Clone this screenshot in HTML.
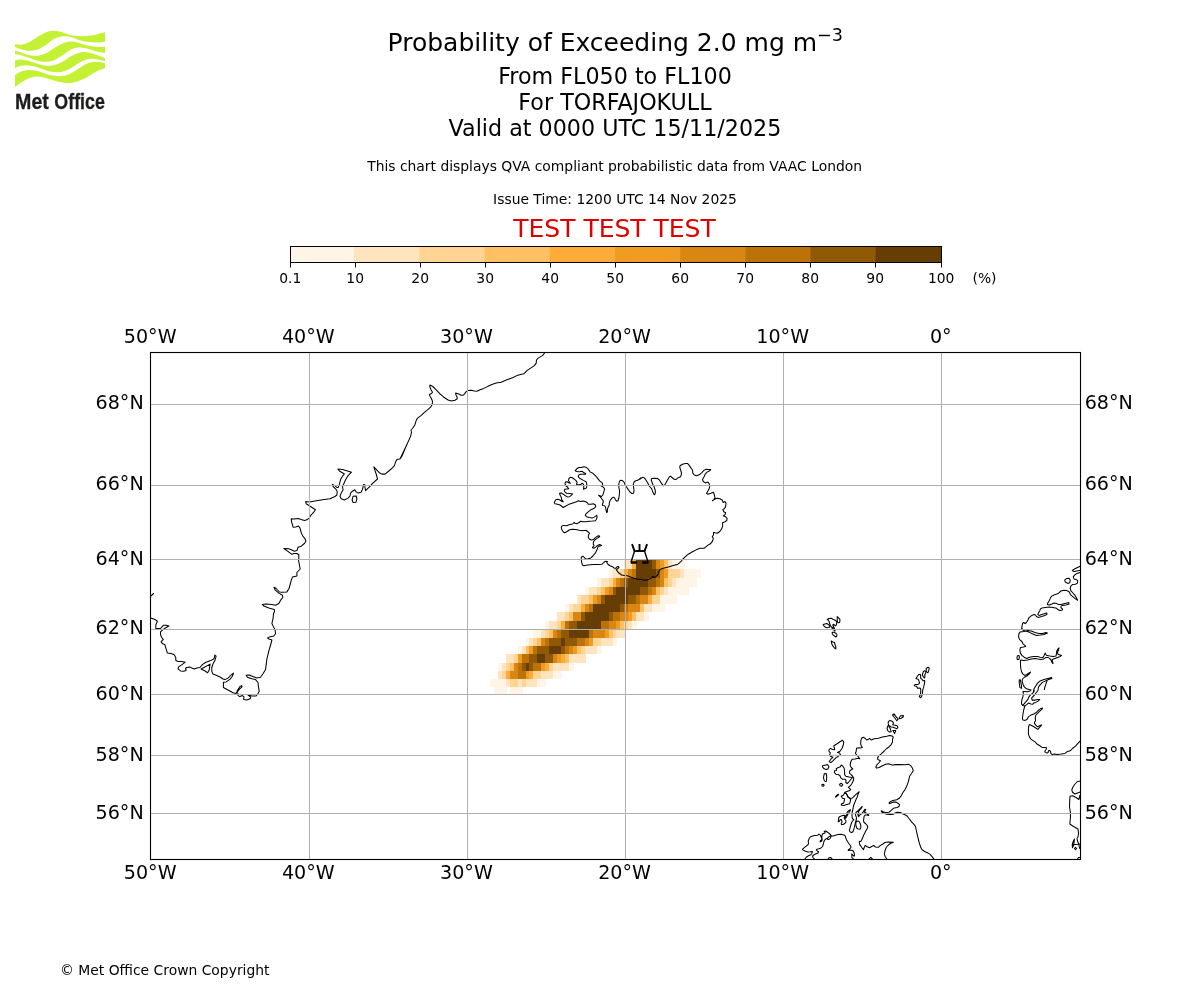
<!DOCTYPE html>
<html lang="en"><head><meta charset="utf-8"><title>Probability of Exceeding 2.0 mg m-3</title>
<style>
html,body{margin:0;padding:0;background:#fff;}
body{width:1200px;height:1000px;overflow:hidden;font-family:"DejaVu Sans","Liberation Sans",sans-serif;}
svg{display:block}
text{font-family:"DejaVu Sans","Liberation Sans",sans-serif;fill:#000}
.c{text-anchor:middle}
.r{text-anchor:end}
.t1{font-size:25px}
.t2{font-size:22.22px}
.s{font-size:13.89px}
.ax{font-size:19.1px}
.grid line{stroke:#b0b0b0;stroke-width:1}
.coast path{fill:none;stroke:#000;stroke-width:1.05;stroke-linejoin:round;stroke-linecap:round}
</style></head><body>
<svg width="1200" height="1000" viewBox="0 0 1200 1000">
<rect width="1200" height="1000" fill="#fff"/>

<g fill="#C4F134">
<path d="M15.00 44.33C16.25 44.37 19.86 45.10 22.50 44.58C25.14 44.07 28.06 42.71 30.83 41.25C33.61 39.79 36.39 37.43 39.17 35.83C41.94 34.24 45.00 32.50 47.50 31.67C50.00 30.83 51.81 30.76 54.17 30.83C56.53 30.90 59.03 31.39 61.67 32.08C64.31 32.78 66.81 34.31 70.00 35.00C73.19 35.69 77.64 36.11 80.83 36.25C84.03 36.39 86.39 36.18 89.17 35.83C91.94 35.49 94.86 34.75 97.50 34.17C100.14 33.58 103.75 32.64 105.00 32.33L105.00 41.67C103.75 41.81 100.14 42.43 97.50 42.50C94.86 42.57 91.94 42.43 89.17 42.08C86.39 41.74 83.61 41.18 80.83 40.42C78.06 39.65 74.86 38.19 72.50 37.50C70.14 36.81 68.75 36.39 66.67 36.25C64.58 36.11 62.22 36.18 60.00 36.67C57.78 37.15 55.69 37.78 53.33 39.17C50.97 40.56 48.47 43.26 45.83 45.00C43.19 46.74 40.28 48.61 37.50 49.58C34.72 50.56 31.94 50.90 29.17 50.83C26.39 50.76 23.19 49.79 20.83 49.17C18.47 48.54 15.97 47.43 15.00 47.08Z"/>
<path d="M15.00 50.42C16.25 50.83 19.86 52.08 22.50 52.92C25.14 53.75 28.06 55.00 30.83 55.42C33.61 55.83 36.39 55.90 39.17 55.42C41.94 54.93 44.72 53.89 47.50 52.50C50.28 51.11 53.06 48.68 55.83 47.08C58.61 45.49 61.53 43.85 64.17 42.92C66.81 41.99 69.17 41.50 71.67 41.50C74.17 41.50 76.25 42.19 79.17 42.92C82.08 43.64 86.11 45.14 89.17 45.83C92.22 46.53 94.86 46.92 97.50 47.08C100.14 47.25 103.75 46.87 105.00 46.83L105.00 52.92C103.75 52.71 100.14 52.29 97.50 51.67C94.86 51.04 91.67 49.83 89.17 49.17C86.67 48.50 84.58 47.92 82.50 47.67C80.42 47.42 78.75 47.28 76.67 47.67C74.58 48.06 72.50 48.64 70.00 50.00C67.50 51.36 64.44 54.10 61.67 55.83C58.89 57.57 56.11 59.44 53.33 60.42C50.56 61.39 47.78 61.67 45.00 61.67C42.22 61.67 39.72 61.18 36.67 60.42C33.61 59.65 29.72 58.06 26.67 57.08C23.61 56.11 20.28 55.07 18.33 54.58C16.39 54.10 15.56 54.24 15.00 54.17Z"/>
<path d="M15.00 60.42C15.97 60.28 18.61 59.51 20.83 59.58C23.06 59.65 25.56 60.14 28.33 60.83C31.11 61.53 34.58 62.92 37.50 63.75C40.42 64.58 43.06 65.63 45.83 65.83C48.61 66.04 51.39 65.69 54.17 65.00C56.94 64.31 59.72 63.12 62.50 61.67C65.28 60.21 68.19 57.71 70.83 56.25C73.47 54.79 75.97 53.61 78.33 52.92C80.69 52.22 82.50 51.94 85.00 52.08C87.50 52.22 90.83 53.06 93.33 53.75C95.83 54.44 98.06 55.49 100.00 56.25C101.94 57.01 104.17 57.99 105.00 58.33L105.00 61.25C103.89 60.97 100.56 60.00 98.33 59.58C96.11 59.17 93.89 58.68 91.67 58.75C89.44 58.82 87.22 59.24 85.00 60.00C82.78 60.76 80.69 61.94 78.33 63.33C75.97 64.72 73.47 66.94 70.83 68.33C68.19 69.72 65.42 71.04 62.50 71.67C59.58 72.29 56.25 72.36 53.33 72.08C50.42 71.81 47.78 70.83 45.00 70.00C42.22 69.17 39.44 67.85 36.67 67.08C33.89 66.32 30.97 65.62 28.33 65.42C25.69 65.21 23.06 65.35 20.83 65.83C18.61 66.32 15.97 67.92 15.00 68.33Z"/>
<path d="M15.00 75.00C15.97 74.44 18.61 72.50 20.83 71.67C23.06 70.83 25.69 70.14 28.33 70.00C30.97 69.86 33.75 70.21 36.67 70.83C39.58 71.46 42.92 72.92 45.83 73.75C48.75 74.58 51.25 75.49 54.17 75.83C57.08 76.18 60.42 76.32 63.33 75.83C66.25 75.35 69.03 74.17 71.67 72.92C74.31 71.67 76.67 69.86 79.17 68.33C81.67 66.81 84.31 64.79 86.67 63.75C89.03 62.71 91.11 62.36 93.33 62.08C95.56 61.81 98.06 61.88 100.00 62.08C101.94 62.29 104.17 63.12 105.00 63.33L105.00 68.33C103.89 68.68 100.56 69.44 98.33 70.42C96.11 71.39 93.89 72.85 91.67 74.17C89.44 75.49 87.50 77.08 85.00 78.33C82.50 79.58 79.44 80.90 76.67 81.67C73.89 82.43 71.11 82.85 68.33 82.92C65.56 82.99 63.06 82.71 60.00 82.08C56.94 81.46 53.06 80.00 50.00 79.17C46.94 78.33 44.31 77.50 41.67 77.08C39.03 76.67 36.67 76.32 34.17 76.67C31.67 77.01 29.03 78.06 26.67 79.17C24.31 80.28 21.94 82.01 20.00 83.33C18.06 84.65 15.83 86.46 15.00 87.08Z"/>
</g>
<text y="108.8" style="font-family:'Liberation Sans',sans-serif;font-weight:bold;font-size:21.8px;fill:#1d1d1b;stroke:#1d1d1b;stroke-width:0.3px"><tspan x="15.1" textLength="33.8" lengthAdjust="spacingAndGlyphs">Met</tspan> <tspan x="54.3" textLength="50.6" lengthAdjust="spacingAndGlyphs">Office</tspan></text>
<text class="c t1" x="615.3" y="51">Probability of Exceeding 2.0 mg m<tspan dy="-10.4" font-size="17.6px">−3</tspan></text>
<text class="c t2" x="615" y="83.8">From FL050 to FL100</text>
<text class="c t2" x="615" y="110">For TORFAJOKULL</text>
<text class="c t2" x="615" y="136.4">Valid at 0000 UTC 15/11/2025</text>
<text class="c s" x="614.6" y="171">This chart displays QVA compliant probabilistic data from VAAC London</text>
<text class="c s" x="615" y="204">Issue Time: 1200 UTC 14 Nov 2025</text>
<text class="c" x="614.5" y="237" style="font-size:25px;fill:#de0000">TEST TEST TEST</text>
<rect x="290.50" y="246.5" width="63.90" height="16.0" fill="#FFF5E6"/>
<rect x="354.00" y="246.5" width="65.60" height="16.0" fill="#FFE5BF"/>
<rect x="419.20" y="246.5" width="65.70" height="16.0" fill="#FFD494"/>
<rect x="484.50" y="246.5" width="65.60" height="16.0" fill="#FEC062"/>
<rect x="549.70" y="246.5" width="65.70" height="16.0" fill="#FDAC3A"/>
<rect x="615.00" y="246.5" width="65.50" height="16.0" fill="#F09C22"/>
<rect x="680.10" y="246.5" width="65.50" height="16.0" fill="#D98612"/>
<rect x="745.20" y="246.5" width="65.40" height="16.0" fill="#BC7207"/>
<rect x="810.20" y="246.5" width="65.40" height="16.0" fill="#905906"/>
<rect x="875.20" y="246.5" width="66.70" height="16.0" fill="#663D04"/>
<rect x="290.5" y="246.5" width="651.0" height="16.0" fill="none" stroke="#000" stroke-width="1"/>
<line x1="290.5" y1="262.5" x2="290.5" y2="267.5" stroke="#000" stroke-width="1"/>
<text class="c s" x="290.20" y="283">0.1</text>
<line x1="355.5" y1="262.5" x2="355.5" y2="267.5" stroke="#000" stroke-width="1"/>
<text class="c s" x="355.20" y="283">10</text>
<line x1="420.5" y1="262.5" x2="420.5" y2="267.5" stroke="#000" stroke-width="1"/>
<text class="c s" x="420.20" y="283">20</text>
<line x1="485.5" y1="262.5" x2="485.5" y2="267.5" stroke="#000" stroke-width="1"/>
<text class="c s" x="485.20" y="283">30</text>
<line x1="550.5" y1="262.5" x2="550.5" y2="267.5" stroke="#000" stroke-width="1"/>
<text class="c s" x="550.20" y="283">40</text>
<line x1="615.5" y1="262.5" x2="615.5" y2="267.5" stroke="#000" stroke-width="1"/>
<text class="c s" x="615.20" y="283">50</text>
<line x1="680.5" y1="262.5" x2="680.5" y2="267.5" stroke="#000" stroke-width="1"/>
<text class="c s" x="680.20" y="283">60</text>
<line x1="745.5" y1="262.5" x2="745.5" y2="267.5" stroke="#000" stroke-width="1"/>
<text class="c s" x="745.20" y="283">70</text>
<line x1="810.5" y1="262.5" x2="810.5" y2="267.5" stroke="#000" stroke-width="1"/>
<text class="c s" x="810.20" y="283">80</text>
<line x1="875.5" y1="262.5" x2="875.5" y2="267.5" stroke="#000" stroke-width="1"/>
<text class="c s" x="875.20" y="283">90</text>
<line x1="941.5" y1="262.5" x2="941.5" y2="267.5" stroke="#000" stroke-width="1"/>
<text class="c s" x="941.20" y="283">100</text>
<text class="s" x="972.5" y="283">(%)</text>
<clipPath id="ax"><rect x="150.5" y="352.5" width="930.0" height="507.0"/></clipPath>
<g clip-path="url(#ax)">
<g shape-rendering="crispEdges">
<rect x="624" y="560" width="8" height="9" fill="#FFE5BF"/>
<rect x="632" y="560" width="4" height="9" fill="#FDAC3A"/>
<rect x="636" y="560" width="16" height="9" fill="#663D04"/>
<rect x="652" y="560" width="4" height="9" fill="#905906"/>
<rect x="656" y="560" width="4" height="9" fill="#D98612"/>
<rect x="660" y="560" width="4" height="9" fill="#F09C22"/>
<rect x="664" y="560" width="4" height="9" fill="#FEC062"/>
<rect x="668" y="560" width="4" height="9" fill="#FFE5BF"/>
<rect x="672" y="560" width="5" height="9" fill="#FFF5E6"/>
<rect x="680" y="560" width="5" height="9" fill="#FFF5E6"/>
<rect x="609" y="569" width="4" height="9" fill="#FFF5E6"/>
<rect x="613" y="569" width="7" height="9" fill="#FFE5BF"/>
<rect x="620" y="569" width="4" height="9" fill="#FFD494"/>
<rect x="624" y="569" width="4" height="9" fill="#FDAC3A"/>
<rect x="628" y="569" width="4" height="9" fill="#D98612"/>
<rect x="632" y="569" width="4" height="9" fill="#BC7207"/>
<rect x="636" y="569" width="20" height="9" fill="#663D04"/>
<rect x="656" y="569" width="4" height="9" fill="#905906"/>
<rect x="660" y="569" width="4" height="9" fill="#D98612"/>
<rect x="664" y="569" width="4" height="9" fill="#F09C22"/>
<rect x="668" y="569" width="12" height="9" fill="#FFD494"/>
<rect x="680" y="569" width="4" height="9" fill="#FFE5BF"/>
<rect x="684" y="569" width="17" height="9" fill="#FFF5E6"/>
<rect x="597" y="578" width="4" height="9" fill="#FFF5E6"/>
<rect x="601" y="578" width="8" height="9" fill="#FFE5BF"/>
<rect x="609" y="578" width="4" height="9" fill="#FFD494"/>
<rect x="613" y="578" width="3" height="9" fill="#FDAC3A"/>
<rect x="616" y="578" width="4" height="9" fill="#D98612"/>
<rect x="620" y="578" width="4" height="9" fill="#BC7207"/>
<rect x="624" y="578" width="4" height="9" fill="#905906"/>
<rect x="628" y="578" width="20" height="9" fill="#663D04"/>
<rect x="648" y="578" width="8" height="9" fill="#905906"/>
<rect x="656" y="578" width="4" height="9" fill="#BC7207"/>
<rect x="660" y="578" width="4" height="9" fill="#D98612"/>
<rect x="664" y="578" width="4" height="9" fill="#FEC062"/>
<rect x="668" y="578" width="4" height="9" fill="#FFD494"/>
<rect x="672" y="578" width="4" height="9" fill="#FFE5BF"/>
<rect x="676" y="578" width="21" height="9" fill="#FFF5E6"/>
<rect x="585" y="587" width="4" height="8" fill="#FFF5E6"/>
<rect x="589" y="587" width="8" height="8" fill="#FFE5BF"/>
<rect x="597" y="587" width="4" height="8" fill="#FFD494"/>
<rect x="601" y="587" width="4" height="8" fill="#FEC062"/>
<rect x="605" y="587" width="4" height="8" fill="#F09C22"/>
<rect x="609" y="587" width="4" height="8" fill="#D98612"/>
<rect x="613" y="587" width="3" height="8" fill="#905906"/>
<rect x="616" y="587" width="24" height="8" fill="#663D04"/>
<rect x="640" y="587" width="8" height="8" fill="#905906"/>
<rect x="648" y="587" width="4" height="8" fill="#BC7207"/>
<rect x="652" y="587" width="4" height="8" fill="#D98612"/>
<rect x="656" y="587" width="4" height="8" fill="#FEC062"/>
<rect x="660" y="587" width="4" height="8" fill="#FFD494"/>
<rect x="664" y="587" width="4" height="8" fill="#FFE5BF"/>
<rect x="668" y="587" width="21" height="8" fill="#FFF5E6"/>
<rect x="577" y="595" width="4" height="9" fill="#FFE5BF"/>
<rect x="581" y="595" width="8" height="9" fill="#FFD494"/>
<rect x="589" y="595" width="4" height="9" fill="#FEC062"/>
<rect x="593" y="595" width="4" height="9" fill="#F09C22"/>
<rect x="597" y="595" width="4" height="9" fill="#D98612"/>
<rect x="601" y="595" width="4" height="9" fill="#905906"/>
<rect x="605" y="595" width="23" height="9" fill="#663D04"/>
<rect x="628" y="595" width="8" height="9" fill="#905906"/>
<rect x="636" y="595" width="4" height="9" fill="#BC7207"/>
<rect x="640" y="595" width="8" height="9" fill="#D98612"/>
<rect x="648" y="595" width="4" height="9" fill="#FDAC3A"/>
<rect x="652" y="595" width="8" height="9" fill="#FFD494"/>
<rect x="660" y="595" width="17" height="9" fill="#FFF5E6"/>
<rect x="565" y="604" width="4" height="8" fill="#FFF5E6"/>
<rect x="569" y="604" width="4" height="8" fill="#FFE5BF"/>
<rect x="573" y="604" width="8" height="8" fill="#FFD494"/>
<rect x="581" y="604" width="4" height="8" fill="#FDAC3A"/>
<rect x="585" y="604" width="4" height="8" fill="#D98612"/>
<rect x="589" y="604" width="4" height="8" fill="#BC7207"/>
<rect x="593" y="604" width="27" height="8" fill="#663D04"/>
<rect x="620" y="604" width="4" height="8" fill="#905906"/>
<rect x="624" y="604" width="4" height="8" fill="#BC7207"/>
<rect x="628" y="604" width="12" height="8" fill="#D98612"/>
<rect x="640" y="604" width="4" height="8" fill="#FEC062"/>
<rect x="644" y="604" width="8" height="8" fill="#FFE5BF"/>
<rect x="652" y="604" width="13" height="8" fill="#FFF5E6"/>
<rect x="557" y="612" width="8" height="9" fill="#FFE5BF"/>
<rect x="565" y="612" width="4" height="9" fill="#FFD494"/>
<rect x="569" y="612" width="4" height="9" fill="#FEC062"/>
<rect x="573" y="612" width="8" height="9" fill="#D98612"/>
<rect x="581" y="612" width="4" height="9" fill="#905906"/>
<rect x="585" y="612" width="24" height="9" fill="#663D04"/>
<rect x="609" y="612" width="4" height="9" fill="#905906"/>
<rect x="613" y="612" width="7" height="9" fill="#BC7207"/>
<rect x="620" y="612" width="8" height="9" fill="#D98612"/>
<rect x="628" y="612" width="4" height="9" fill="#F09C22"/>
<rect x="632" y="612" width="4" height="9" fill="#FEC062"/>
<rect x="636" y="612" width="8" height="9" fill="#FFE5BF"/>
<rect x="644" y="612" width="5" height="9" fill="#FFF5E6"/>
<rect x="545" y="621" width="4" height="8" fill="#FFF5E6"/>
<rect x="549" y="621" width="8" height="8" fill="#FFE5BF"/>
<rect x="557" y="621" width="4" height="8" fill="#FFD494"/>
<rect x="561" y="621" width="4" height="8" fill="#FDAC3A"/>
<rect x="565" y="621" width="4" height="8" fill="#BC7207"/>
<rect x="569" y="621" width="8" height="8" fill="#905906"/>
<rect x="577" y="621" width="24" height="8" fill="#663D04"/>
<rect x="601" y="621" width="8" height="8" fill="#BC7207"/>
<rect x="609" y="621" width="7" height="8" fill="#D98612"/>
<rect x="616" y="621" width="4" height="8" fill="#F09C22"/>
<rect x="620" y="621" width="4" height="8" fill="#FEC062"/>
<rect x="624" y="621" width="4" height="8" fill="#FFD494"/>
<rect x="628" y="621" width="4" height="8" fill="#FFE5BF"/>
<rect x="632" y="621" width="5" height="8" fill="#FFF5E6"/>
<rect x="533" y="629" width="8" height="9" fill="#FFF5E6"/>
<rect x="541" y="629" width="4" height="9" fill="#FFE5BF"/>
<rect x="545" y="629" width="4" height="9" fill="#FFD494"/>
<rect x="549" y="629" width="4" height="9" fill="#FEC062"/>
<rect x="553" y="629" width="4" height="9" fill="#D98612"/>
<rect x="557" y="629" width="4" height="9" fill="#BC7207"/>
<rect x="561" y="629" width="8" height="9" fill="#905906"/>
<rect x="569" y="629" width="20" height="9" fill="#663D04"/>
<rect x="589" y="629" width="4" height="9" fill="#BC7207"/>
<rect x="593" y="629" width="12" height="9" fill="#D98612"/>
<rect x="605" y="629" width="4" height="9" fill="#F09C22"/>
<rect x="609" y="629" width="4" height="9" fill="#FEC062"/>
<rect x="613" y="629" width="3" height="9" fill="#FFD494"/>
<rect x="616" y="629" width="9" height="9" fill="#FFE5BF"/>
<rect x="526" y="638" width="3" height="8" fill="#FFF5E6"/>
<rect x="529" y="638" width="4" height="8" fill="#FFE5BF"/>
<rect x="533" y="638" width="4" height="8" fill="#FFD494"/>
<rect x="537" y="638" width="4" height="8" fill="#FEC062"/>
<rect x="541" y="638" width="4" height="8" fill="#D98612"/>
<rect x="545" y="638" width="4" height="8" fill="#BC7207"/>
<rect x="549" y="638" width="12" height="8" fill="#905906"/>
<rect x="561" y="638" width="4" height="8" fill="#663D04"/>
<rect x="565" y="638" width="12" height="8" fill="#905906"/>
<rect x="577" y="638" width="8" height="8" fill="#BC7207"/>
<rect x="585" y="638" width="4" height="8" fill="#D98612"/>
<rect x="589" y="638" width="4" height="8" fill="#F09C22"/>
<rect x="593" y="638" width="8" height="8" fill="#FFD494"/>
<rect x="601" y="638" width="12" height="8" fill="#FFE5BF"/>
<rect x="613" y="638" width="4" height="8" fill="#FFF5E6"/>
<rect x="518" y="646" width="4" height="8" fill="#FFF5E6"/>
<rect x="522" y="646" width="4" height="8" fill="#FFE5BF"/>
<rect x="526" y="646" width="3" height="8" fill="#FEC062"/>
<rect x="529" y="646" width="4" height="8" fill="#F09C22"/>
<rect x="533" y="646" width="4" height="8" fill="#BC7207"/>
<rect x="537" y="646" width="12" height="8" fill="#905906"/>
<rect x="549" y="646" width="12" height="8" fill="#663D04"/>
<rect x="561" y="646" width="4" height="8" fill="#905906"/>
<rect x="565" y="646" width="4" height="8" fill="#BC7207"/>
<rect x="569" y="646" width="4" height="8" fill="#D98612"/>
<rect x="573" y="646" width="4" height="8" fill="#F09C22"/>
<rect x="577" y="646" width="4" height="8" fill="#FEC062"/>
<rect x="581" y="646" width="4" height="8" fill="#FFD494"/>
<rect x="585" y="646" width="12" height="8" fill="#FFE5BF"/>
<rect x="597" y="646" width="5" height="8" fill="#FFF5E6"/>
<rect x="506" y="654" width="8" height="9" fill="#FFE5BF"/>
<rect x="514" y="654" width="4" height="9" fill="#FFD494"/>
<rect x="518" y="654" width="4" height="9" fill="#F09C22"/>
<rect x="522" y="654" width="7" height="9" fill="#BC7207"/>
<rect x="529" y="654" width="8" height="9" fill="#905906"/>
<rect x="537" y="654" width="8" height="9" fill="#663D04"/>
<rect x="545" y="654" width="8" height="9" fill="#905906"/>
<rect x="553" y="654" width="4" height="9" fill="#D98612"/>
<rect x="557" y="654" width="4" height="9" fill="#F09C22"/>
<rect x="561" y="654" width="4" height="9" fill="#FDAC3A"/>
<rect x="565" y="654" width="4" height="9" fill="#FEC062"/>
<rect x="569" y="654" width="17" height="9" fill="#FFE5BF"/>
<rect x="498" y="663" width="4" height="8" fill="#FFF5E6"/>
<rect x="502" y="663" width="4" height="8" fill="#FFE5BF"/>
<rect x="506" y="663" width="4" height="8" fill="#FFD494"/>
<rect x="510" y="663" width="4" height="8" fill="#FEC062"/>
<rect x="514" y="663" width="4" height="8" fill="#D98612"/>
<rect x="518" y="663" width="4" height="8" fill="#BC7207"/>
<rect x="522" y="663" width="4" height="8" fill="#905906"/>
<rect x="526" y="663" width="3" height="8" fill="#663D04"/>
<rect x="529" y="663" width="4" height="8" fill="#905906"/>
<rect x="533" y="663" width="8" height="8" fill="#BC7207"/>
<rect x="541" y="663" width="4" height="8" fill="#F09C22"/>
<rect x="545" y="663" width="4" height="8" fill="#FDAC3A"/>
<rect x="549" y="663" width="4" height="8" fill="#FFD494"/>
<rect x="553" y="663" width="16" height="8" fill="#FFE5BF"/>
<rect x="569" y="663" width="5" height="8" fill="#FFF5E6"/>
<rect x="498" y="671" width="4" height="8" fill="#FFE5BF"/>
<rect x="502" y="671" width="4" height="8" fill="#FFD494"/>
<rect x="506" y="671" width="4" height="8" fill="#FDAC3A"/>
<rect x="510" y="671" width="8" height="8" fill="#D98612"/>
<rect x="518" y="671" width="8" height="8" fill="#BC7207"/>
<rect x="526" y="671" width="3" height="8" fill="#F09C22"/>
<rect x="529" y="671" width="4" height="8" fill="#FDAC3A"/>
<rect x="533" y="671" width="8" height="8" fill="#FFD494"/>
<rect x="541" y="671" width="12" height="8" fill="#FFE5BF"/>
<rect x="553" y="671" width="9" height="8" fill="#FFF5E6"/>
<rect x="490" y="679" width="16" height="8" fill="#FFF5E6"/>
<rect x="506" y="679" width="4" height="8" fill="#FFE5BF"/>
<rect x="510" y="679" width="8" height="8" fill="#FFD494"/>
<rect x="518" y="679" width="4" height="8" fill="#FFE5BF"/>
<rect x="522" y="679" width="4" height="8" fill="#FFD494"/>
<rect x="526" y="679" width="11" height="8" fill="#FFE5BF"/>
<rect x="537" y="679" width="9" height="8" fill="#FFF5E6"/>
<rect x="494" y="687" width="13" height="8" fill="#FFF5E6"/>
<rect x="510" y="687" width="13" height="8" fill="#FFF5E6"/>
</g>
<g class="coast">
<path d="M545.0 352.5L542.5 355.6L538.1 358.1L536.5 360.0L536.2 363.1L534.4 365.6L530.6 368.1L526.9 370.6L523.8 373.8L520.6 374.4L516.9 375.6L512.5 377.8L507.5 379.6L501.2 382.2L496.2 383.1L491.9 384.6L487.5 386.6L483.8 388.4L480.0 389.8L476.9 391.2L474.4 391.0L471.2 390.2L468.1 390.4L466.2 391.6L464.4 394.1L463.1 395.2L461.2 395.2L458.8 394.1L455.6 393.1L455.9 394.8L457.1 396.9L457.2 398.8L455.0 400.2L451.2 401.0L448.1 400.0L443.8 397.2L440.0 393.8L436.2 389.8L432.8 386.5L430.0 385.0L429.8 386.5L431.0 389.8L432.5 392.2L431.5 393.5L429.4 394.4L430.0 396.2L431.5 398.8L432.5 401.2L432.2 404.5L430.6 407.2L428.1 409.4L425.0 411.9L420.6 415.9L417.5 418.1L416.2 420.6L414.8 425.0L412.5 428.5L411.0 430.0L411.5 432.5L410.6 436.2L408.1 441.9L405.0 448.8L401.9 456.2L400.0 459.0L406.9 444.4L404.4 450.0L401.9 455.6L399.8 459.0L396.9 459.6L395.6 461.9L394.4 465.6L392.5 467.8L388.8 471.0L385.0 474.1L381.9 474.1L379.4 472.8L376.2 469.4L373.8 466.9L375.0 470.6L376.5 475.0L377.5 479.0L373.1 482.8L369.4 486.9L365.6 490.6L365.0 487.5L364.8 484.8L363.5 484.6L362.5 489.4L361.0 492.2L358.1 493.1L356.2 491.9L354.8 489.8L352.5 491.2L350.6 493.1L350.0 496.0L348.1 498.1L344.4 500.0L341.2 498.8L340.0 496.2L341.2 493.1L343.1 490.0L342.5 486.9L343.8 483.8L345.6 479.8L348.1 475.6L351.5 472.2L347.5 471.0L342.5 469.6L337.8 469.0L339.4 471.0L344.4 474.0L342.5 476.2L340.6 479.4L339.4 484.4L338.1 487.5L336.9 487.5L335.0 485.6L332.5 484.4L333.1 486.5L335.6 488.8L337.2 491.2L336.9 495.0L335.0 496.5L330.0 498.8L322.5 499.8L315.0 501.0L309.4 501.9L305.6 501.6L306.2 503.8L310.6 506.5L315.4 509.8L313.8 512.2L311.2 514.8L309.4 517.8L306.9 519.8L304.4 520.6L301.2 519.6L298.1 518.5L294.4 519.1L291.2 518.8L291.6 521.9L292.5 525.0L293.1 527.2L295.6 526.9L298.5 526.0L300.0 528.1L301.2 532.5L302.5 535.6L305.0 538.8L305.9 541.2L304.4 543.5L301.2 546.2L298.1 547.2L297.5 548.8L296.9 550.6L294.4 551.2L291.9 550.0L288.8 548.8L283.8 548.5L286.9 550.6L291.9 554.4L293.8 553.5L296.9 553.5L298.8 554.8L298.8 558.8L298.5 560.0L299.4 565.0L300.2 569.0L296.9 572.5L296.9 576.0L292.5 576.9L291.0 581.2L290.0 585.0L289.0 588.5L286.9 591.9L282.5 592.2L279.4 592.0L276.2 588.5L274.0 587.2L275.0 589.8L278.8 593.1L282.5 595.2L282.8 597.5L280.6 600.2L278.8 603.5L275.6 605.2L271.9 604.4L266.2 604.1L262.2 604.4L264.0 606.0L268.8 608.1L274.4 609.6L274.4 611.9L273.5 613.5L273.1 618.1L271.9 623.5L273.5 626.9L275.0 629.4L275.6 633.5L273.8 636.0L269.4 636.9L267.5 637.9L269.0 639.0L271.9 640.0L270.6 645.0L268.8 651.2L266.9 658.8L265.6 669.4L263.0 673.8L260.5 677.2L256.8 677.9L253.0 676.5L249.2 675.0L246.1 675.2L247.4 677.2L251.8 678.8L255.5 679.6L258.0 682.5L258.4 686.2L259.2 691.2L258.0 693.5L256.1 696.0L251.8 696.0L248.0 695.0L250.5 696.9L250.2 698.8L246.8 700.0L243.6 699.4L244.0 696.9L242.4 695.6L239.9 696.6L238.0 695.6L238.0 693.5L237.0 692.5L239.2 689.4L242.0 686.9L241.8 685.6L239.9 686.5L237.4 690.6L236.1 693.5L233.0 692.8L228.0 690.0L223.4 687.5L223.4 682.2L226.1 681.9L229.9 679.4L232.4 676.2L233.6 673.1L231.1 675.0L228.0 678.1L224.9 679.6L223.0 679.0L220.5 677.2L216.8 675.6L213.0 674.1L211.8 671.2L211.8 667.5L213.0 663.8L214.9 660.6L216.1 656.2L214.9 655.0L214.0 658.8L210.5 660.6L205.5 662.5L202.4 664.6L199.9 667.5L196.8 667.9L194.2 669.0L191.8 668.1L189.9 666.9L186.8 667.5L185.5 668.5L186.1 670.4L183.6 671.2L180.5 670.9L178.0 668.8L178.6 666.9L182.4 664.4L185.2 662.2L181.8 661.5L178.0 661.5L175.8 660.6L175.8 657.5L174.2 654.8L171.1 653.5L167.4 653.1L166.1 648.8L164.9 644.8L162.4 643.5L161.1 641.9L163.2 639.4L161.5 637.2L160.5 634.4L160.5 631.9L163.0 629.6L166.1 627.5L168.9 626.0L166.1 625.2L163.6 625.2L162.0 626.9L160.5 628.5L155.8 628.5L155.8 625.0L157.4 621.2L154.9 619.4L150.8 617.9"/>
<path d="M150.8 596.2L153.6 593.5"/>
<path d="M201.1 669.0L210.1 664.1L209.2 670.0L207.6 672.8L205.2 671.0Z"/>
<path d="M353.1 496.2L356.2 496.0L356.9 498.8L356.0 502.2L353.1 502.5L352.1 499.8Z"/>
<path d="M640.8 477.9L638.3 480.0L635.8 480.8L634.2 481.7L633.3 484.2L633.6 487.5L634.0 490.8L633.6 493.2L632.1 493.5L630.4 492.5L628.3 489.6L626.2 486.5L625.0 484.6L624.2 482.3L622.5 480.7L620.8 480.2L619.6 481.2L618.8 483.8L618.9 487.5L619.6 491.2L619.3 495.0L618.8 498.3L617.9 500.7L616.7 501.2L615.4 499.8L614.6 497.9L613.5 497.2L612.1 497.9L610.0 500.8L609.3 502.9L609.3 505.0L608.3 506.7L607.5 509.2L607.3 512.1L606.7 512.5L606.0 510.0L605.7 507.5L604.6 505.7L602.5 505.4L602.3 504.2L603.2 502.5L603.3 500.8L602.1 499.3L600.8 497.5L599.2 495.8L598.5 495.2L600.0 495.7L601.2 496.7L602.9 495.0L603.5 492.9L604.2 490.4L604.6 488.8L603.3 487.1L601.2 486.0L602.7 484.6L602.3 482.9L599.6 480.8L597.5 478.2L595.4 475.7L592.9 473.3L590.4 472.1L588.3 469.2L586.2 467.3L583.8 466.8L581.2 467.5L578.8 467.5L576.8 468.8L575.2 470.7L576.7 471.5L579.2 471.7L582.5 471.2L583.3 472.5L585.7 473.6L585.4 474.3L582.9 474.2L580.2 474.3L578.3 475.4L578.5 477.1L580.4 478.8L583.3 480.4L586.2 481.8L586.8 484.2L586.7 487.1L586.0 488.3L584.2 488.8L583.5 489.3L583.8 486.7L583.3 484.2L582.1 483.2L581.2 484.2L579.6 484.8L577.5 484.8L576.5 484.3L577.1 482.3L575.8 480.4L573.8 478.8L571.8 477.5L570.0 477.3L568.8 478.8L568.5 480.8L570.4 483.3L568.8 482.9L567.1 481.8L565.4 482.1L565.0 483.8L565.8 485.8L567.1 486.7L568.8 488.8L566.7 489.0L565.0 489.2L564.2 490.4L565.0 492.1L566.7 493.3L570.0 493.5L572.7 493.9L571.2 495.4L569.6 496.7L567.5 496.9L565.4 495.8L563.3 494.2L561.2 492.9L559.6 493.3L560.0 495.0L561.2 497.1L561.7 499.6L563.3 501.8L561.7 501.2L559.8 500.0L557.9 499.2L555.8 499.8L554.2 502.5L555.0 503.8L557.5 504.2L560.0 505.0L563.3 507.5L565.4 506.2L568.3 504.6L572.1 503.3L575.8 502.1L578.3 500.7L580.4 501.5L583.3 501.0L585.8 501.7L587.5 502.9L588.3 504.3L590.8 504.2L593.3 503.8L595.4 505.0L595.8 506.7L594.2 508.2L590.8 509.8L587.9 512.1L585.8 514.2L585.2 515.4L586.7 516.7L589.2 517.5L592.1 518.1L594.2 517.1L596.7 515.4L597.1 517.1L596.5 519.2L595.4 520.7L592.5 521.0L589.2 521.2L585.8 521.7L582.9 521.8L580.8 521.2L579.2 522.5L576.7 523.8L575.0 523.3L574.2 522.3L572.5 524.0L569.2 524.8L566.7 525.7L563.3 525.4L561.7 526.2L561.2 527.9L562.1 530.0L563.3 532.1L564.6 532.7L566.7 531.7L569.6 529.8L572.1 529.2L575.8 529.6L579.2 530.2L582.5 530.7L585.8 530.2L587.9 531.7L589.6 533.3L588.5 535.0L588.2 537.1L589.2 539.0L591.2 540.0L593.3 539.6L595.4 537.7L597.9 535.8L599.7 536.1L599.4 536.8L597.0 538.4L594.8 540.2L593.5 541.5L593.2 544.2L594.2 545.7L592.9 546.8L592.5 547.7L593.8 548.2L595.8 547.1L597.5 545.4L599.6 544.6L601.7 545.4L599.6 546.0L597.9 547.1L597.1 549.6L595.4 552.9L592.9 556.0L590.8 557.9L588.3 558.8L585.8 559.0L584.6 557.9L583.3 556.5L582.1 556.2L581.2 557.9L581.5 561.2L582.3 565.0L583.8 565.7L587.5 565.0L593.3 564.6L598.3 564.4L602.1 564.2L603.8 562.5L605.4 561.2L607.5 561.4L606.7 562.5L607.9 564.2L610.0 565.7L612.5 566.7L614.2 568.2L615.8 568.3L616.7 567.1L618.2 566.2L619.0 567.5L617.5 568.8L616.2 569.6L617.1 570.8L619.2 573.3L621.7 575.0L624.2 575.4L627.5 575.7L630.0 576.7L633.3 577.9L637.5 579.2L640.0 579.2L642.5 579.8L645.8 580.2L648.3 579.6L651.7 577.9L652.7 576.2L653.8 577.5L655.8 576.7L657.9 574.6L658.8 571.7L660.0 569.6L663.3 568.3L668.3 567.1L673.3 565.4L677.9 564.2L680.8 561.7L682.9 559.0L685.4 556.7L688.3 554.2L692.5 551.7L696.7 549.6L700.0 548.3L704.2 548.3L707.5 545.4L710.4 543.8L712.5 541.2L713.3 538.3L712.3 536.7L713.5 534.8L713.6 532.3L715.0 532.7L717.3 533.3L719.8 531.5L721.7 528.8L722.7 525.8L722.5 522.7L725.0 521.8L726.7 520.4L726.7 520.8L727.1 518.3L725.4 516.7L723.3 515.7L725.0 514.6L725.7 512.7L723.8 511.7L722.7 509.6L724.2 508.8L725.4 507.1L726.1 503.3L725.0 501.5L723.3 502.5L722.1 500.0L720.0 498.8L717.1 498.3L714.6 499.2L712.3 500.8L713.8 499.6L715.0 497.9L714.2 494.2L713.3 492.3L710.8 493.3L707.9 494.2L706.5 493.3L707.3 492.1L708.8 489.6L709.8 486.2L709.2 483.8L707.9 482.1L705.4 482.9L703.3 481.5L702.5 479.6L704.2 476.5L705.4 473.8L707.1 472.1L709.6 470.8L710.7 469.6L708.8 469.4L706.2 469.3L704.0 470.4L702.1 472.3L699.6 474.6L696.7 475.7L694.2 475.0L692.7 472.9L692.5 470.0L690.8 467.9L689.2 465.4L687.7 463.6L685.4 463.5L682.5 464.2L680.0 465.7L679.8 467.5L680.6 470.0L681.4 472.5L681.4 474.6L680.4 476.8L678.3 477.7L675.8 479.6L674.2 479.3L672.1 477.5L670.4 476.2L669.2 477.1L667.1 480.8L665.0 484.6L663.3 485.8L661.2 482.9L659.2 479.8L657.5 478.5L654.6 478.2L651.7 478.5L651.2 480.0L652.5 483.8L654.2 487.1L655.2 490.0L655.4 492.5L654.6 494.8L653.8 494.2L652.5 491.2L651.7 488.8L649.2 486.0L647.9 483.3L646.2 480.4L644.2 477.7L642.5 477.3L640.0 479.2Z"/>
<path d="M827.2 619.5L829.0 618.5L831.2 618.2L833.0 619.2L835.0 620.2L836.5 621.2L836.8 623.0L836.2 625.2L835.5 625.8L834.5 625.0L833.2 624.2L832.8 625.0L833.5 626.5L834.2 628.0L834.5 629.0L833.8 628.5L833.0 627.0L832.5 628.5L831.8 627.8L830.8 626.0L830.0 624.2L829.2 622.0L828.5 620.2Z"/>
<path d="M823.2 624.5L825.0 623.9L826.8 623.5L828.0 624.2L829.5 625.5L830.0 626.5L828.8 627.5L827.0 627.8L825.2 627.0L824.1 626.2Z"/>
<path d="M837.2 616.5L838.5 617.8L839.8 619.2L840.0 620.8L839.5 622.5L838.5 622.8L837.5 622.0L837.2 620.0Z"/>
<path d="M834.0 630.4L834.8 630.2L835.1 630.7L834.5 631.0Z"/>
<path d="M832.2 632.2L834.0 632.2L835.8 633.2L836.9 634.5L836.8 636.2L835.8 637.0L834.5 636.0L833.0 634.8L832.2 633.5Z"/>
<path d="M831.2 641.0L832.8 642.0L834.5 642.5L835.0 644.5L835.8 646.5L835.8 648.9L834.5 648.0L833.0 646.2L831.8 644.0Z"/>
<path d="M916.0 678.4L917.5 676.3L918.7 674.5L920.2 674.2L920.8 675.7L920.5 678.1L922.0 679.3L923.2 680.8L924.7 680.5L924.7 682.6L924.1 685.0L923.5 687.7L922.7 690.1L922.5 692.2L922.3 694.3L921.4 697.0L920.3 697.7L919.3 696.4L920.3 694.9L920.7 692.2L920.8 689.8L920.5 688.3L919.0 688.0L917.5 688.3L916.6 686.2L914.8 685.9L914.2 685.3L915.4 684.4L918.1 684.4L919.6 683.2L919.0 681.1L918.4 679.3L917.2 678.9Z"/>
<path d="M922.9 673.0L923.5 671.2L924.7 670.7L925.9 671.5L925.6 673.3L924.7 674.8L925.0 676.6L924.4 678.1L923.2 676.6L922.3 674.8Z"/>
<path d="M926.2 668.5L927.7 667.3L928.9 667.6L929.2 668.8L928.6 670.9L928.0 672.7L926.8 672.1L926.2 670.6Z"/>
<path d="M892.9 715.0L893.5 714.3L894.4 714.4L894.7 715.0"/>
<path d="M888.3 721.7L890.0 720.4L892.1 721.2L893.5 722.9L892.7 724.8L895.0 725.2L897.1 725.8L897.9 727.5L896.7 728.8L895.0 727.9L893.3 727.3L891.2 727.1L889.8 725.8L888.8 725.4L889.2 727.1L890.4 728.8L890.8 730.4L891.2 731.7L889.6 732.1L887.9 730.8L887.1 728.8L887.5 726.7L888.5 725.0L888.2 723.3Z"/>
<path d="M892.9 730.4L895.8 730.4L894.6 733.5Z"/>
<path d="M892.5 715.0L894.2 714.0L895.4 715.8L897.1 717.9L898.3 719.2L896.7 720.7L895.4 718.8L893.8 716.7Z"/>
<path d="M899.2 717.5L900.8 715.7L903.3 715.4L903.3 716.8L901.2 718.3L899.6 718.8Z"/>
<path d="M934.0 859.2L932.5 857.1L930.4 854.6L927.9 852.9L924.6 851.5L922.1 849.8L920.7 847.3L919.2 842.5L917.5 835.8L916.2 830.0L915.4 826.2L914.2 824.6L911.7 822.1L909.2 818.8L907.1 816.0L905.0 814.8L902.5 813.8L900.4 812.5L897.1 812.3L895.0 812.9L893.3 814.3L890.0 814.6L886.7 814.2L883.3 812.9L881.5 811.7L881.2 810.7L882.9 811.8L885.8 812.5L888.8 812.3L890.4 811.2L892.5 809.2L894.2 807.9L897.5 807.5L899.2 806.2L899.6 804.6L897.9 803.2L896.2 802.1L893.3 802.1L891.2 802.9L889.2 803.6L889.2 802.7L890.8 801.5L892.9 800.4L896.7 799.8L899.2 798.3L901.2 795.8L902.9 792.5L905.0 789.6L906.7 786.2L907.9 782.9L908.8 780.0L909.6 776.2L911.7 773.3L913.3 770.8L912.5 768.3L910.8 765.8L908.8 764.3L905.0 764.8L900.0 764.6L895.0 764.6L892.9 765.2L890.8 764.6L888.3 763.8L885.8 764.2L882.5 765.7L879.2 767.5L876.7 768.1L875.8 767.1L877.1 764.6L879.2 762.5L880.4 760.7L877.9 759.6L877.5 757.9L878.8 755.8L881.2 753.8L884.2 751.0L886.7 748.5L889.2 746.7L891.2 744.6L892.5 742.1L892.5 739.2L893.3 737.1L892.1 736.0L889.6 735.4L886.7 736.2L882.5 737.1L878.3 738.2L874.2 738.8L871.2 740.0L869.6 738.3L867.9 739.6L866.7 740.0L865.0 738.2L863.2 737.3L861.5 738.3L860.8 740.8L860.7 743.8L861.2 745.8L862.3 747.5L860.4 747.9L858.3 747.7L856.5 748.3L856.2 751.2L855.4 753.3L856.7 755.0L858.3 756.7L859.8 758.8L857.9 758.3L855.0 759.0L852.1 759.2L850.8 761.7L850.2 764.6L850.4 766.2L851.7 767.9L852.9 768.8L851.2 769.8L849.6 771.2L849.6 773.3L851.2 774.6L852.9 776.7L853.8 778.3L853.3 780.8L852.1 783.3L850.4 785.7L848.3 787.3L849.6 788.3L850.7 789.6L849.2 790.8L846.7 791.5L844.6 792.5L846.0 793.3L847.3 795.2L848.3 797.3L850.2 798.5L852.5 797.9L855.0 795.4L857.1 793.3L859.2 791.7L857.8 795.0L857.2 797.0L856.0 799.5L854.8 802.5L853.5 805.8L853.0 809.0L852.2 812.0L852.0 815.0L852.1 817.5L852.8 819.0L853.8 819.5L852.8 820.8L851.8 822.2L850.8 825.0L850.0 828.0L849.4 830.5L850.2 832.1L851.8 832.6L853.0 831.5L853.8 829.5L854.5 826.5L855.2 823.5L855.9 821.0L856.4 819.0L856.5 817.8L855.9 816.0L855.4 814.2L856.0 812.5L857.8 810.8L859.8 808.8L862.2 806.5L861.5 807.9L859.8 809.8L858.2 811.8L858.8 812.6L858.0 814.2L858.4 816.2L859.5 815.5L860.6 814.2L862.0 813.2L862.8 812.5L864.0 810.5L865.0 809.2L865.8 809.5L865.0 811.0L864.5 812.2L865.8 812.8L867.5 814.2L868.8 815.0L868.5 815.5L867.0 814.8L865.2 815.0L864.2 816.2L863.8 818.5L863.5 821.0L864.2 822.5L866.0 824.0L867.2 825.5L867.8 827.0L867.2 828.5L866.0 830.5L864.8 833.0L863.5 835.5L862.5 838.0L861.5 840.5L860.8 841.5L859.5 841.2L859.2 842.2L859.8 845.0L860.0 844.6L861.7 847.5L863.5 849.6L864.2 847.5L865.2 845.4L867.1 846.7L869.6 847.7L872.1 846.2L873.8 845.4L875.4 847.1L878.3 847.3L880.4 845.4L882.5 844.2L885.0 842.5L888.3 842.1L893.3 842.3L890.8 843.3L888.3 845.0L886.2 847.5L885.0 850.8L884.3 853.8L885.0 856.2L886.7 858.8L887.1 860.0"/>
<path d="M868.8 859.2L870.8 857.3L872.5 859.2"/>
<path d="M842.5 740.2L843.8 742.1L843.3 745.0L842.1 748.3L840.0 751.2L837.5 752.5L839.6 752.9L840.4 754.6L838.3 756.2L835.8 757.9L832.9 760.8L830.8 762.7L829.2 761.5L830.8 759.2L832.9 757.3L830.4 756.2L829.6 754.6L830.4 752.9L829.2 751.7L828.8 750.0L830.4 748.3L832.5 749.6L834.8 749.8L834.2 747.5L833.8 745.8L836.7 744.0L840.0 741.7Z"/>
<path d="M822.5 765.8L825.0 765.2L827.5 764.6L829.0 766.5L827.9 769.0L826.2 769.6L824.2 768.8L822.5 767.1Z"/>
<path d="M824.2 773.8L826.2 773.5L826.7 776.7L826.5 781.2L825.2 781.5L824.0 780.0L823.5 777.5Z"/>
<path d="M821.8 784.8L823.2 784.2L824.2 785.2L823.3 786.2L822.1 786.0Z"/>
<path d="M841.2 765.0L842.9 766.2L844.2 768.3L844.6 771.7L844.6 774.6L845.8 776.2L849.2 777.1L852.5 777.5L850.4 780.0L848.3 782.5L847.1 783.5L845.8 782.5L846.0 780.4L845.0 779.2L842.5 779.2L840.8 777.9L840.0 775.8L838.3 774.6L835.8 774.2L834.3 772.5L834.6 770.8L836.5 770.4L836.2 768.8L838.3 767.5L840.4 766.8Z"/>
<path d="M839.6 784.2L841.2 783.2L842.7 784.6L841.7 786.2L840.0 785.7Z"/>
<path d="M835.4 796.8L836.7 795.4L838.3 794.2L838.7 794.7L837.1 796.0L835.8 797.2Z"/>
<path d="M841.2 796.2L843.3 795.2L844.3 793.5L846.0 793.3L847.1 794.8L847.7 796.8L849.6 798.1L850.7 799.6L850.2 801.7L849.6 803.8L846.7 804.6L843.8 805.4L841.2 805.0L841.7 803.8L843.8 802.9L844.2 800.8L844.6 798.8L842.5 798.3Z"/>
<path d="M856.0 822.0L857.2 821.0L858.8 821.2L860.0 823.0L860.8 825.5L860.8 828.0L860.0 829.2L858.2 829.0L856.8 828.0L856.0 826.0L855.8 824.0Z"/>
<path d="M850.5 809.8L850.0 811.0L849.0 812.5L847.8 814.5L847.0 816.0L846.0 817.8L845.0 818.5L844.8 817.5L845.5 816.0L846.5 814.8L847.5 813.2L846.8 812.8L847.8 811.5L849.0 810.5Z"/>
<path d="M838.8 817.5L840.0 816.5L842.0 815.8L844.0 815.2L845.0 816.0L844.2 817.2L844.5 819.0L845.8 820.5L846.0 822.2L844.8 823.5L843.0 824.5L841.5 824.6L841.2 823.5L842.0 822.2L841.8 820.8L841.2 819.5L840.2 819.8L839.2 821.5L838.2 821.8L838.5 820.0Z"/>
<path d="M858.0 814.5L859.0 816.0L858.5 816.8"/>
<path d="M804.5 860.0L805.0 859.0L806.2 857.2L808.5 855.8L810.8 854.8L811.8 853.2L812.5 851.6L810.5 851.8L807.8 851.9L805.0 851.0L802.8 849.9L802.5 849.1L804.0 847.8L806.2 846.2L808.2 844.5L808.5 842.8L808.2 841.0L809.2 838.5L810.2 837.0L812.5 836.0L815.0 835.4L817.8 835.2L818.4 834.2L819.5 834.2L820.5 835.5L821.2 837.2L821.9 838.8L821.5 840.0L820.2 841.0L820.2 841.9L821.8 841.0L822.2 839.4L821.8 837.5L822.0 835.2L822.5 834.0L824.0 833.2L825.2 833.0L824.8 831.9L824.2 831.2L825.8 831.0L827.5 832.2L829.2 833.5L830.8 834.8L831.0 836.0L833.0 836.0L835.5 835.2L838.0 834.4L840.5 834.2L843.0 834.8L844.8 835.2L845.5 836.8L846.2 839.2L847.5 841.5L849.0 843.8L850.5 845.8L851.0 847.2L850.0 848.8L848.5 849.8L848.2 850.5L850.0 850.2L852.0 850.2L853.5 851.2L854.2 853.0L854.5 855.0L854.2 856.2L853.2 855.5L851.8 853.8L851.8 855.5L851.8 857.2L852.5 858.2L853.5 859.2L854.0 860.0"/>
<path d="M831.0 836.0L830.8 837.2L830.0 838.5L829.0 839.5L828.0 839.6L827.2 838.8L828.2 837.4L829.8 836.2L830.8 835.8"/>
<path d="M827.8 838.2L826.0 838.8L824.5 840.2L823.8 842.0L823.2 844.5L822.5 846.5L821.0 848.0L819.0 848.8L817.0 849.2L816.2 850.0L817.2 851.0L818.5 851.8L818.0 853.0L816.0 853.8L813.8 854.8L812.5 856.0L813.0 857.5L814.2 858.8L815.0 860.0"/>
<path d="M827.8 860.0L828.0 859.1L829.0 857.8L830.5 857.5L831.5 858.2L832.2 859.1L832.5 860.0"/>
<path d="M1080.8 566.1L1077.0 567.8L1074.0 569.2L1072.3 570.6L1074.0 571.4L1077.0 570.9L1080.8 570.3"/>
<path d="M1064.6 580.1L1066.5 578.6L1069.1 578.2L1070.2 580.1L1069.7 582.8L1067.6 583.4L1065.4 582.0Z"/>
<path d="M1080.8 572.2L1077.0 573.4L1074.4 575.2L1073.2 577.1L1074.0 578.9L1076.2 579.4L1077.8 580.9L1077.4 583.1L1075.5 584.2L1072.5 584.6L1070.8 586.1L1070.2 588.4L1070.8 590.6L1072.5 592.5L1074.8 595.1L1076.6 598.1L1077.6 600.2L1075.5 598.9L1072.9 596.6L1070.6 594.8L1069.5 592.5L1068.8 591.4L1066.5 590.6L1063.9 590.2L1060.9 591.0L1058.6 593.2L1056.8 594.1L1053.8 595.1L1051.5 596.2L1050.4 598.1L1049.2 600.8L1047.8 603.0L1047.4 604.5L1049.2 605.1L1051.9 604.1L1054.1 603.1L1056.8 603.6L1058.6 604.5L1061.2 604.4L1065.0 603.4L1068.8 602.6L1069.1 604.1L1065.8 604.9L1062.4 605.4L1060.9 606.4L1061.1 607.9L1062.6 608.9L1062.4 610.1L1060.1 610.6L1058.2 609.8L1056.4 608.2L1053.0 607.4L1049.2 607.1L1045.5 607.5L1041.8 608.1L1040.4 609.0L1039.7 610.9L1038.4 613.1L1037.8 614.6L1039.1 615.4L1042.5 614.2L1046.6 612.9L1047.0 614.2L1044.8 615.6L1041.8 616.5L1038.0 617.4L1036.5 616.5L1035.4 615.0L1034.2 614.6L1031.6 615.6L1029.0 617.6L1027.9 619.9L1026.4 622.5L1025.1 623.6L1023.8 622.5L1022.6 623.2L1022.1 625.9L1021.6 628.9L1021.9 628.0L1022.6 629.9L1025.2 630.9L1029.0 632.1L1032.8 634.0L1036.5 635.5L1040.2 635.1L1044.0 634.6L1047.4 633.1L1045.9 632.5L1042.5 633.4L1038.8 633.4L1035.0 632.5L1031.2 631.1L1027.5 630.4L1023.8 631.4L1020.0 632.1L1018.9 633.6L1018.6 637.0L1019.6 639.6L1021.9 641.5L1023.0 643.8L1024.9 645.4L1025.6 646.4L1023.4 647.1L1020.4 647.5L1019.9 649.8L1020.4 653.1L1021.9 655.4L1024.1 657.2L1026.8 658.4L1029.4 657.2L1033.5 656.5L1037.2 656.4L1040.2 657.2L1042.9 657.6L1044.0 655.8L1045.1 653.1L1045.9 654.6L1047.0 655.6L1050.0 656.1L1053.0 656.4L1056.0 656.1L1056.4 653.9L1056.8 650.9L1057.9 648.9L1059.0 647.9L1058.6 649.8L1057.5 652.4L1057.9 654.2L1060.1 654.9L1061.6 655.4L1060.1 656.5L1057.5 657.4L1054.9 658.4L1052.2 659.4L1052.6 661.8L1053.0 663.6L1051.9 662.5L1050.9 659.9L1049.6 658.4L1047.8 657.4L1045.5 657.6L1043.6 659.1L1041.0 659.6L1038.0 659.1L1035.0 658.4L1031.2 659.1L1027.5 660.1L1023.8 660.4L1021.1 659.9L1020.4 661.0L1020.5 664.8L1020.8 668.5L1021.6 671.9L1023.0 674.1L1024.7 675.4L1026.8 674.5L1029.0 673.0L1030.5 672.1L1029.4 673.8L1026.8 676.0L1024.1 677.5L1022.6 679.0L1022.1 681.2L1023.0 684.2L1024.3 686.9L1026.4 688.8L1029.0 689.4L1031.1 689.9L1030.1 691.0L1027.5 691.8L1024.5 691.4L1023.0 691.6L1023.4 693.4L1023.0 696.4L1022.1 699.0L1021.5 702.0L1021.6 704.2L1022.6 705.4L1024.1 703.9L1026.0 701.6L1027.9 699.4L1029.0 696.8L1030.5 694.9L1032.4 693.4L1033.9 691.9L1034.2 690.0L1033.3 691.8L1033.9 689.1L1035.4 686.5L1037.6 683.1L1040.2 680.9L1044.0 679.4L1047.8 678.4L1051.5 677.5L1051.9 678.4L1048.5 679.6L1045.5 680.9L1042.5 682.4L1040.2 684.6L1038.4 687.2L1038.0 690.2L1036.5 692.5L1034.2 694.8L1032.8 697.0L1035.0 694.5L1033.1 696.4L1031.6 698.2L1032.2 700.1L1035.0 700.1L1038.0 699.4L1039.7 699.6L1038.0 701.1L1035.8 702.4L1033.9 702.9L1032.8 704.2L1030.9 704.1L1028.4 703.1L1026.8 704.6L1024.9 705.9L1023.8 709.5L1023.0 714.0L1022.4 718.5L1023.0 720.1L1025.2 720.4L1027.1 719.2L1028.6 716.6L1030.9 715.1L1033.9 714.0L1036.5 712.1L1038.8 709.9L1041.0 708.4L1042.7 708.0L1041.8 709.4L1039.5 711.4L1037.2 713.6L1035.6 715.5L1035.2 717.8L1035.6 720.4L1034.6 722.2L1034.4 723.4L1035.8 725.1L1037.6 726.8L1039.7 725.6L1041.8 724.9L1040.2 726.6L1038.8 728.2L1038.0 729.4L1036.1 728.2L1033.9 726.8L1031.2 725.2L1029.4 724.6L1028.6 726.8L1028.4 730.5L1028.4 733.9L1029.4 736.9L1030.9 739.1L1033.1 740.6L1035.4 742.1L1036.9 744.0L1039.5 745.5L1042.1 747.4L1044.8 747.6L1046.6 747.8L1046.2 749.2L1045.1 750.8L1044.8 751.9L1047.0 753.1L1048.1 752.6L1048.5 750.8L1049.6 750.4L1050.6 751.5L1050.8 753.4L1051.9 754.4L1054.5 753.9L1057.5 754.4L1061.2 754.1L1065.0 753.4L1067.2 751.6L1070.2 750.8L1072.5 748.5L1075.5 746.2L1078.1 743.2L1080.8 740.4"/>
<path d="M1022.6 705.4L1024.9 705.9"/>
<path d="M1047.0 680.9L1045.9 684.2L1044.8 687.2L1044.4 689.5"/>
<path d="M1017.4 655.8L1018.9 655.4L1019.4 657.2L1018.9 659.5L1017.4 659.6L1016.9 658.0Z"/>
<path d="M1019.2 680.1L1020.4 679.8L1020.9 682.8L1021.6 686.1L1021.4 688.4L1020.0 687.6L1019.4 684.2Z"/>
<path d="M1081.0 781.0L1077.5 781.5L1075.0 784.0L1073.0 787.0L1071.8 789.8L1072.5 792.2L1075.0 794.0L1077.5 793.0L1081.0 791.8"/>
<path d="M1081.0 795.0L1079.8 795.5L1079.0 799.5L1076.0 797.5L1072.5 795.8L1070.0 796.2L1069.7 801.0L1069.5 807.0L1070.3 811.5L1070.5 817.0L1069.8 824.0L1073.5 826.5L1078.0 829.0L1078.5 833.0L1078.0 837.0L1077.0 838.0L1077.5 841.0L1078.8 844.0L1079.5 848.0L1081.0 850.0"/>
<path d="M1074.5 839.0L1073.0 842.0L1072.2 845.0L1072.5 847.8L1073.8 844.5L1074.5 839.0"/>
<path d="M1073.0 844.7L1081.0 844.0"/>
<path d="M1074.3 848.5L1075.5 847.3L1076.7 848.5L1075.5 849.7Z"/>
<path d="M1077.0 860.0L1077.5 859.0L1078.5 857.5L1081.0 857.5"/>
</g>
<g class="grid">
<line x1="309.5" y1="352.5" x2="309.5" y2="859.5"/>
<line x1="467.5" y1="352.5" x2="467.5" y2="859.5"/>
<line x1="625.5" y1="352.5" x2="625.5" y2="859.5"/>
<line x1="783.5" y1="352.5" x2="783.5" y2="859.5"/>
<line x1="941.5" y1="352.5" x2="941.5" y2="859.5"/>
<line x1="150.5" y1="404.5" x2="1080.5" y2="404.5"/>
<line x1="150.5" y1="485.5" x2="1080.5" y2="485.5"/>
<line x1="150.5" y1="559.5" x2="1080.5" y2="559.5"/>
<line x1="150.5" y1="629.5" x2="1080.5" y2="629.5"/>
<line x1="150.5" y1="694.5" x2="1080.5" y2="694.5"/>
<line x1="150.5" y1="755.5" x2="1080.5" y2="755.5"/>
<line x1="150.5" y1="813.5" x2="1080.5" y2="813.5"/>
</g>
<g stroke="#000" fill="none" stroke-linecap="butt">
<path d="M633.8 551H645.2" stroke-width="1.9"/>
<path d="M634.7 550.6L631 562.3M644.4 550.6L648.1 562.3" stroke-width="1.4"/>
<path d="M634.5 550.8L632 544.2M639.5 551V544M644.6 550.8L647.1 544.2" stroke-width="1.9"/>
<path d="M630.7 562.5H636.9M642.1 562.5H648.4" stroke-width="2.6"/>
</g>
</g>
<rect x="150.5" y="352.5" width="930.0" height="507.0" fill="none" stroke="#000" stroke-width="1.11"/>
<text class="c ax" x="150.20" y="342.8">50°W</text>
<text class="c ax" x="150.20" y="879">50°W</text>
<text class="c ax" x="308.32" y="342.8">40°W</text>
<text class="c ax" x="308.32" y="879">40°W</text>
<text class="c ax" x="466.44" y="342.8">30°W</text>
<text class="c ax" x="466.44" y="879">30°W</text>
<text class="c ax" x="624.56" y="342.8">20°W</text>
<text class="c ax" x="624.56" y="879">20°W</text>
<text class="c ax" x="782.68" y="342.8">10°W</text>
<text class="c ax" x="782.68" y="879">10°W</text>
<text class="c ax" x="940.80" y="342.8">0°</text>
<text class="c ax" x="940.80" y="879">0°</text>
<text class="r ax" x="143.7" y="409.00">68°N</text>
<text class="ax" x="1084.7" y="409.00">68°N</text>
<text class="r ax" x="143.7" y="490.00">66°N</text>
<text class="ax" x="1084.7" y="490.00">66°N</text>
<text class="r ax" x="143.7" y="565.00">64°N</text>
<text class="ax" x="1084.7" y="565.00">64°N</text>
<text class="r ax" x="143.7" y="634.00">62°N</text>
<text class="ax" x="1084.7" y="634.00">62°N</text>
<text class="r ax" x="143.7" y="700.00">60°N</text>
<text class="ax" x="1084.7" y="700.00">60°N</text>
<text class="r ax" x="143.7" y="761.00">58°N</text>
<text class="ax" x="1084.7" y="761.00">58°N</text>
<text class="r ax" x="143.7" y="819.00">56°N</text>
<text class="ax" x="1084.7" y="819.00">56°N</text>
<text class="s" x="60" y="974.5">© Met Office Crown Copyright</text>
</svg></body></html>
